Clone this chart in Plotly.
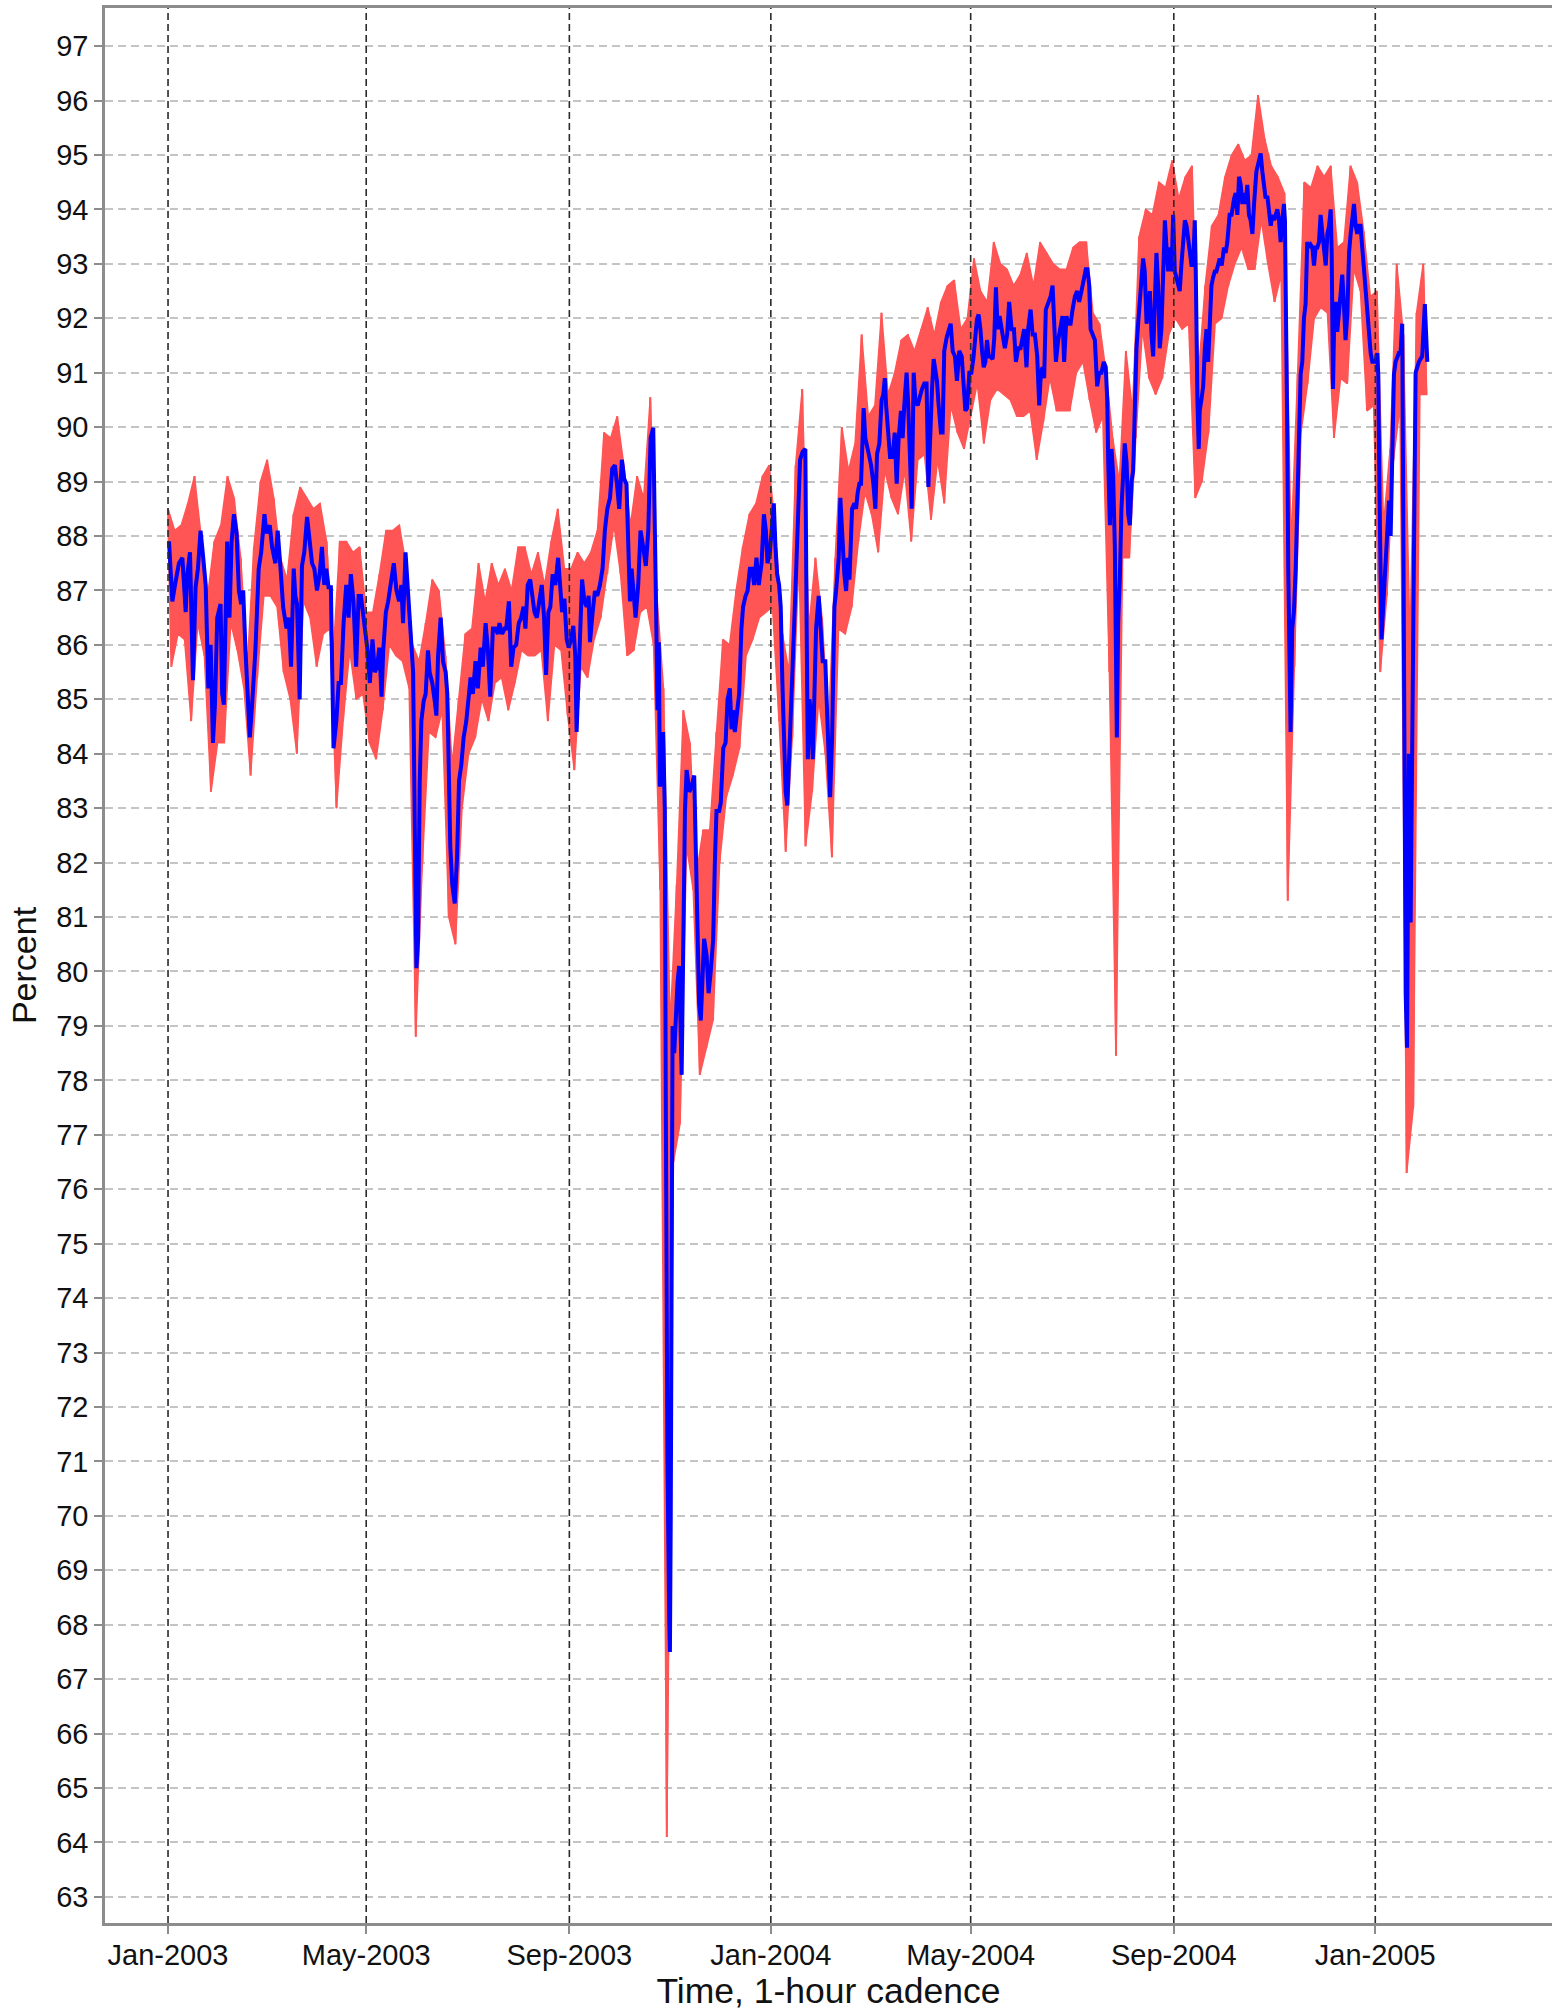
import pandas as pd
import plotly.graph_objects as go

START = pd.Timestamp("2003-01-01")

# Smoothed (blue) series: day offset from 2003-01-01 and percent value
blue_days = [0.6, 2.6, 4.0, 5.6, 6.6, 8.7, 10.7, 11.7, 13.3, 15.1, 16.7, 18.1, 19.7, 21.3, 22.8, 24.4, 25.8, 27.2, 28.4, 29.8,
             31.8, 32.8, 33.8, 35.8, 37.2, 38.5, 39.9, 41.5, 42.9, 44.3, 45.5, 46.9, 48.3, 49.5, 50.9, 52.9, 54.9, 56.4, 58.4, 59.6,
             61.6, 63.0, 65.0, 66.4, 68.0, 69.7, 71.7, 73.1, 74.5, 76.1, 77.1, 78.1, 79.7, 81.1, 82.5, 84.2, 85.8, 87.2, 88.6, 90.2,
             91.8, 93.2, 94.6, 95.8, 97.2, 98.6, 100.2, 101.9, 103.3, 104.7, 106.3, 107.9, 109.3, 110.7, 112.3, 113.9, 115.4, 116.8, 118.4, 120.8,
             122.2, 123.8, 125.2, 126.6, 127.9, 129.3, 130.3, 131.9, 133.3, 135.3, 136.7, 138.3, 139.9, 141.3, 142.3, 143.8, 145.4, 146.8, 148.4, 149.4,
             150.4, 151.4, 152.4, 153.4, 154.8, 156.0, 157.4, 158.4, 160.0, 161.5, 162.5, 163.5, 165.1, 166.5, 168.1, 169.1, 169.9, 170.9, 172.1, 173.6,
             175.0, 176.2, 177.6, 179.0, 180.6, 182.2, 183.2, 184.6, 186.2, 187.6, 189.3, 190.6, 192.3, 193.7, 195.1, 196.7, 198.3, 199.7, 200.7, 202.3,
             203.8, 204.8, 206.4, 207.8, 209.2, 210.8, 212.4, 213.8, 215.3, 216.4, 217.8, 219.3, 220.5, 221.9, 223.3, 224.9, 226.3, 227.7, 228.9, 230.3,
             231.5, 232.9, 234.5, 236.2, 237.3, 238.6, 240.0, 241.4, 242.6, 244.0, 245.4, 246.6, 247.4, 248.4, 249.5, 250.7, 252.1, 253.5, 254.7, 255.5,
             257.1, 258.5, 259.9, 261.5, 263.1, 264.5, 266.0, 267.6, 269.0, 270.6, 272.0, 273.2, 274.8, 276.2, 277.6, 278.6, 279.7, 280.7, 281.7, 283.1,
             284.7, 286.1, 287.7, 289.3, 290.8, 292.2, 293.8, 294.8, 295.4, 296.4, 297.2, 297.8, 298.8, 299.8, 300.8, 301.4, 302.4, 303.5, 303.9, 304.4,
             304.8, 305.5, 306.5, 307.5, 308.5, 309.5, 311.0, 313.0, 314.0, 315.6, 317.0, 318.6, 319.6, 320.4, 321.6, 322.6, 323.6, 324.6, 326.1, 327.3,
             328.5, 330.1, 331.1, 332.1, 333.7, 334.7, 336.2, 337.6, 338.8, 340.2, 341.2, 342.2, 343.2, 344.6, 345.8, 347.2, 348.2, 349.7, 350.9, 352.3,
             353.7, 354.9, 356.3, 357.7, 359.4, 360.8, 362.0, 363.0, 364.4, 365.8, 366.8, 367.8, 368.8, 370.0, 371.0, 372.0, 373.0, 374.0, 375.0, 376.0,
             376.9, 378.3, 379.9, 381.3, 382.7, 384.3, 385.9, 386.7, 387.4, 388.4, 389.4, 390.4, 391.4, 392.4, 394.0, 395.4, 396.4, 398.0, 399.0, 400.0,
             400.9, 402.1, 403.5, 404.5, 406.1, 407.1, 408.1, 409.5, 410.6, 411.6, 412.6, 414.2, 415.6, 416.6, 417.6, 418.6, 419.6, 420.6, 421.2, 422.2,
             423.3, 424.7, 425.7, 427.1, 428.3, 429.3, 430.7, 432.1, 433.1, 434.0, 434.8, 435.8, 437.2, 438.8, 440.0, 441.2, 442.4, 443.8, 444.8, 445.8,
             447.2, 448.2, 449.3, 450.3, 451.5, 452.5, 453.9, 455.3, 456.5, 457.9, 459.3, 460.4, 461.4, 462.6, 463.6, 464.6, 465.6, 466.6, 468.0, 469.0,
             470.0, 471.5, 472.7, 473.9, 475.1, 476.5, 477.7, 479.1, 480.6, 481.8, 482.8, 483.8, 485.2, 486.4, 487.6, 488.8, 489.8, 490.8, 491.9, 492.9,
             493.9, 494.9, 495.9, 496.9, 497.9, 499.3, 500.3, 501.3, 502.3, 503.5, 505.3, 506.7, 508.1, 509.3, 510.8, 512.2, 513.4, 514.8, 516.2, 517.4,
             518.4, 519.8, 520.8, 522.3, 523.5, 524.9, 526.3, 527.5, 528.5, 529.5, 530.5, 531.5, 532.9, 534.4, 535.6, 536.6, 537.6, 539.0, 540.4, 541.6,
             542.6, 544.0, 545.0, 546.5, 547.7, 549.1, 550.5, 551.7, 553.1, 554.5, 555.7, 556.7, 557.8, 558.6, 559.8, 561.2, 562.6, 563.8, 565.2, 566.6,
             567.8, 568.7, 569.3, 570.3, 571.3, 572.3, 573.3, 573.9, 574.5, 575.3, 576.3, 577.3, 578.3, 579.3, 580.4, 581.4, 582.4, 583.4, 584.4, 585.4,
             586.4, 587.4, 588.4, 589.4, 590.4, 591.4, 592.5, 593.5, 594.5, 595.5, 596.5, 597.5, 598.5, 599.5, 600.5, 601.5, 602.5, 603.6, 604.6, 605.6,
             606.6, 607.6, 608.6, 609.6, 610.6, 611.6, 612.6, 613.6, 614.6, 615.7, 616.7, 617.7, 618.7, 619.7, 620.7, 621.7, 622.3, 622.7, 623.3, 624.1,
             624.7, 625.7, 626.8, 627.8, 628.8, 629.8, 630.8, 631.8, 632.8, 633.8, 634.8, 635.8, 636.8, 638.0, 639.4, 640.4, 641.4, 642.8, 644.0, 645.5,
             646.5, 647.5, 648.5, 649.5, 650.5, 651.5, 652.5, 653.5, 654.5, 655.5, 656.6, 657.6, 659.0, 660.2, 661.6, 662.6, 663.6, 664.6, 665.6, 666.6,
             667.7, 668.7, 669.7, 670.7, 671.7, 672.7, 673.7, 674.7, 675.7, 676.3, 677.1, 677.7, 678.3, 679.1, 679.7, 680.7, 681.7, 682.8, 683.8, 684.8,
             685.8, 686.8, 687.8, 688.8, 689.8, 690.9, 691.9, 692.9, 693.9, 694.9, 695.9, 696.9, 697.9, 699.0, 700.0, 701.0, 702.0, 703.0, 704.0, 704.6,
             705.4, 706.0, 707.0, 708.0, 709.0, 710.0, 711.0, 712.0, 713.0, 714.1, 715.1, 716.1, 717.1, 718.1, 719.1, 720.1, 721.1, 722.1, 723.1, 724.1,
             725.2, 726.2, 727.2, 728.2, 729.2, 730.2, 731.2, 732.2, 732.8, 733.6, 734.2, 734.8, 735.6, 736.6, 737.6, 738.7, 739.3, 740.3, 741.3, 742.3,
             743.3, 744.3, 745.3, 746.3, 747.3, 747.9, 748.6, 749.4, 750.2, 751.3, 752.4, 753.5, 754.5, 755.4, 757.4, 759.4, 761.0, 762.5]
blue_vals = [87.9, 86.8, 87.06, 87.3, 87.5, 87.6, 86.6, 87.3, 87.7, 85.35, 87.06, 87.4, 88.1, 87.6, 87.1, 85.2, 86.0, 84.2, 84.9, 86.5,
             86.75, 85.1, 84.9, 87.9, 86.5, 87.9, 88.4, 88.05, 87.0, 86.75, 87.0, 85.9, 85.0, 84.3, 84.9, 85.9, 87.4, 87.7, 88.4, 88.05,
             88.2, 87.8, 87.5, 88.1, 87.45, 86.7, 86.3, 86.5, 85.6, 87.4, 86.9, 86.75, 85.0, 87.45, 87.7, 88.35, 87.9, 87.5, 87.4, 87.0,
             87.3, 87.8, 87.1, 87.4, 87.06, 87.06, 84.1, 84.6, 85.3, 85.3, 86.4, 87.1, 86.5, 87.3, 86.8, 85.6, 86.9, 86.9, 86.5, 85.9,
             85.3, 86.1, 85.5, 85.6, 85.95, 85.05, 85.9, 86.6, 86.8, 87.2, 87.5, 87.0, 86.8, 87.1, 86.4, 87.7, 86.85, 86.3, 85.5, 82.7,
             80.06, 80.6, 83.5, 84.6, 84.97, 85.1, 85.9, 85.5, 85.3, 84.97, 84.7, 85.8, 86.5, 85.7, 85.5, 85.1, 83.8, 82.3, 81.6, 81.25,
             82.1, 83.5, 83.8, 84.3, 84.6, 85.1, 85.4, 85.1, 85.7, 85.2, 85.95, 85.6, 86.4, 85.9, 85.05, 86.3, 86.3, 86.2, 86.4, 86.2,
             86.3, 86.3, 86.8, 85.6, 85.95, 86.0, 86.4, 86.5, 86.7, 86.3, 87.1, 87.2, 86.85, 86.6, 86.5, 86.9, 87.1, 86.5, 85.45, 86.6,
             86.7, 87.3, 87.1, 87.6, 87.0, 86.6, 86.85, 86.1, 85.95, 86.1, 86.35, 85.8, 84.4, 85.3, 86.3, 87.2, 86.8, 86.7, 86.9, 86.05,
             86.6, 86.99, 86.9, 87.1, 87.4, 88.1, 88.5, 88.7, 89.24, 89.3, 88.9, 88.5, 89.4, 89.05, 88.95, 87.6, 86.8, 87.4, 86.99, 86.5,
             87.1, 88.1, 87.8, 87.45, 88.1, 89.8, 89.99, 88.4, 86.9, 84.8, 86.05, 83.4, 83.5, 84.4, 82.95, 77.6, 71.0, 68.05, 67.5, 70.0,
             76.8, 79.0, 78.5, 79.2, 79.8, 80.1, 78.1, 82.95, 83.7, 83.3, 83.4, 83.6, 82.0, 81.1, 79.4, 79.1, 80.1, 80.6, 80.3, 79.6,
             79.96, 80.6, 82.0, 82.95, 82.95, 83.1, 84.1, 84.2, 85.0, 85.2, 84.45, 84.8, 84.4, 84.8, 85.1, 86.3, 86.7, 86.9, 86.99, 87.4,
             87.4, 87.1, 87.6, 87.1, 87.5, 88.4, 88.1, 87.5, 87.7, 88.2, 88.6, 87.8, 87.3, 87.1, 86.7, 85.3, 83.9, 83.3, 83.05, 83.9,
             85.0, 85.7, 87.0, 88.5, 89.4, 89.55, 89.6, 86.3, 83.9, 85.0, 84.7, 83.9, 85.5, 86.3, 86.9, 86.3, 85.7, 85.7, 84.7, 83.6,
             83.2, 84.3, 86.7, 86.99, 87.6, 88.7, 87.98, 87.3, 86.99, 87.6, 87.2, 88.5, 88.6, 88.5, 88.8, 88.96, 88.96, 89.6, 90.35, 89.8,
             89.6, 89.45, 89.3, 88.96, 88.5, 89.5, 89.7, 90.5, 90.6, 90.9, 90.4, 89.9, 89.45, 89.45, 89.9, 88.96, 89.8, 90.3, 89.8, 90.4,
             91.0, 90.4, 89.2, 88.5, 91.0, 90.5, 90.4, 90.6, 90.7, 90.8, 90.8, 88.9, 89.9, 90.7, 91.25, 91.0, 90.85, 90.4, 89.9, 89.9,
             91.4, 91.65, 91.8, 91.9, 91.4, 91.3, 90.85, 91.4, 91.3, 90.8, 90.3, 90.35, 91.0, 91.0, 91.25, 91.65, 91.98, 92.07, 91.8, 91.4,
             91.1, 91.2, 91.6, 91.3, 91.3, 91.25, 91.65, 92.57, 91.8, 92.04, 91.7, 91.45, 91.7, 92.3, 91.8, 91.8, 91.2, 91.45, 91.45, 91.6,
             91.8, 91.1, 91.8, 92.16, 91.7, 91.7, 91.3, 90.4, 90.99, 91.1, 90.9, 92.16, 92.3, 92.4, 92.6, 92.04, 91.2, 91.6, 91.8, 92.04,
             91.2, 92.04, 91.9, 91.9, 92.16, 92.4, 92.5, 92.3, 92.5, 92.75, 92.9, 92.9, 92.6, 91.8, 91.7, 91.6, 90.75, 91.0, 91.0, 91.2,
             91.1, 90.5, 89.35, 88.2, 89.6, 89.1, 87.8, 85.8, 84.3, 86.4, 87.2, 88.5, 89.35, 89.7, 89.35, 88.4, 88.2, 89.0, 89.2, 90.5,
             91.45, 91.9, 92.4, 92.75, 93.1, 92.86, 91.9, 92.16, 92.5, 91.7, 91.3, 92.3, 93.2, 92.6, 91.45, 91.8, 92.75, 93.8, 93.3, 92.86,
             93.3, 92.86, 93.9, 92.86, 92.75, 92.57, 92.5, 92.98, 93.3, 93.8, 93.7, 93.45, 93.2, 92.98, 92.98, 93.8, 92.86, 91.1, 90.5, 89.6,
             90.3, 90.5, 90.75, 91.45, 91.8, 91.2, 91.9, 92.6, 92.75, 92.86, 92.86, 92.98, 93.1, 92.97, 93.3, 93.2, 93.4, 93.9, 93.9, 94.2,
             94.3, 93.9, 94.6, 94.45, 94.1, 94.3, 94.1, 94.45, 93.9, 93.8, 93.55, 94.1, 94.7, 94.85, 95.03, 94.7, 94.45, 94.2, 94.25, 93.9,
             93.7, 93.9, 93.8, 93.9, 94.0, 93.8, 93.4, 93.8, 94.1, 93.8, 91.9, 89.9, 87.4, 85.4, 84.4, 86.3, 86.6, 87.4, 88.65, 89.9,
             90.97, 91.2, 92.0, 92.26, 93.4, 93.3, 93.35, 93.3, 92.97, 93.3, 93.3, 93.4, 93.9, 93.55, 93.3, 92.97, 93.55, 93.7, 94.0, 93.2,
             90.7, 91.75, 92.3, 91.75, 92.1, 92.5, 92.8, 92.26, 91.6, 92.1, 93.2, 93.55, 93.9, 94.1, 93.7, 93.55, 93.7, 93.7, 93.3, 92.9,
             92.65, 92.26, 91.75, 91.36, 91.2, 91.2, 91.2, 91.36, 90.97, 88.65, 87.4, 86.1, 86.6, 87.1, 87.6, 88.3, 88.65, 88.0, 89.9, 90.97,
             91.2, 91.3, 91.36, 91.36, 91.9, 88.65, 83.5, 79.6, 78.6, 84.0, 80.9, 84.5, 89.0, 91.0, 91.2, 91.3, 92.26, 91.2]

# Hourly (red) series, summarised as the upper and lower excursion in each 4-day block
RED_BLOCK_DAYS = 4
red_hi = [88.5, 88.1, 88.2, 88.6, 89.1, 88.0, 86.9, 87.9, 88.2, 89.1, 88.7, 87.6, 85.6, 87.8, 89.0, 89.4, 88.7, 87.6, 87.2, 88.4,
          88.9, 88.7, 88.5, 88.6, 87.9, 85.8, 87.9, 87.9, 87.7, 87.8, 86.6, 86.6, 87.3, 88.1, 88.1, 88.2, 87.5, 86.0, 85.7, 86.4,
          87.2, 87.0, 85.8, 83.8, 85.0, 86.2, 86.3, 87.5, 86.8, 87.5, 87.1, 87.4, 87.0, 87.8, 87.8, 87.3, 87.7, 87.1, 87.9, 88.5,
          87.4, 87.4, 87.7, 87.5, 87.7, 88.1, 89.9, 89.8, 90.2, 89.3, 88.2, 89.1, 88.7, 90.55, 86.9, 85.2, 79.0, 81.6, 84.8, 84.2,
          81.8, 82.6, 82.6, 84.4, 86.1, 86.0, 87.0, 87.8, 88.4, 88.6, 89.1, 89.3, 88.0, 86.2, 85.5, 89.3, 90.7, 86.3, 87.6, 86.5,
          84.5, 87.6, 90.0, 89.2, 89.7, 91.7, 90.2, 90.4, 92.1, 90.6, 91.0, 91.6, 91.7, 91.4, 91.8, 92.2, 91.7, 92.3, 92.6, 92.7,
          91.8, 92.0, 93.1, 92.5, 92.3, 93.4, 93.0, 92.9, 92.6, 92.8, 93.2, 92.6, 93.4, 93.2, 93.0, 92.9, 92.9, 93.3, 93.4, 93.4,
          92.1, 91.9, 91.0, 89.8, 89.0, 91.4, 90.3, 93.5, 94.0, 93.9, 94.5, 94.4, 94.9, 94.2, 94.6, 94.8, 91.0, 92.6, 93.7, 93.9,
          94.6, 95.0, 95.2, 94.9, 95.0, 96.1, 95.3, 94.8, 94.6, 94.3, 87.8, 91.0, 94.5, 94.4, 94.8, 94.6, 94.8, 93.3, 93.4, 94.8,
          94.5, 93.6, 92.4, 92.5, 88.2, 89.6, 93.0, 91.7, 86.0, 92.1, 93.0]
red_lo = [85.6, 86.2, 86.1, 84.6, 86.4, 85.8, 83.3, 84.2, 84.2, 86.4, 85.9, 85.2, 83.6, 85.4, 86.9, 86.9, 86.7, 85.5, 85.0, 84.0,
          86.8, 86.5, 85.6, 86.2, 86.3, 83.0, 84.6, 85.9, 85.0, 85.1, 84.2, 83.9, 84.8, 86.0, 85.8, 85.7, 85.2, 78.8, 82.0, 84.4,
          84.3, 84.8, 81.0, 80.5, 83.0, 84.0, 84.3, 85.0, 84.6, 85.3, 85.4, 84.8, 85.3, 85.9, 85.8, 85.8, 85.9, 84.6, 86.0, 85.9,
          84.7, 83.7, 85.6, 85.4, 86.1, 86.5, 87.3, 88.2, 87.3, 85.8, 85.9, 86.6, 86.7, 86.0, 81.5, 64.1, 76.5, 77.2, 82.3, 81.5,
          78.1, 78.6, 79.1, 82.0, 83.2, 83.6, 84.1, 85.8, 86.1, 86.5, 86.6, 86.7, 84.6, 82.2, 84.3, 87.6, 82.3, 83.3, 85.0, 84.0,
          82.1, 86.3, 86.2, 86.7, 87.9, 88.8, 88.4, 87.7, 89.2, 88.7, 88.4, 89.2, 87.9, 89.4, 89.5, 88.3, 89.4, 88.6, 90.4, 89.9,
          89.6, 90.2, 90.8, 89.7, 90.5, 90.7, 90.6, 90.5, 90.2, 90.2, 90.3, 89.4, 90.1, 90.9, 90.3, 90.3, 90.3, 91.0, 91.2, 90.5,
          89.9, 90.2, 85.5, 78.45, 87.6, 87.6, 89.8, 91.8, 90.9, 90.6, 90.9, 91.7, 92.0, 91.8, 91.9, 88.7, 89.0, 89.9, 91.9, 92.0,
          92.6, 93.0, 93.3, 92.9, 92.9, 93.8, 93.0, 92.3, 92.8, 81.3, 85.6, 89.9, 90.8, 92.0, 92.2, 92.1, 89.8, 90.9, 90.8, 92.9,
          92.5, 90.3, 90.4, 85.5, 86.9, 89.4, 90.4, 76.3, 77.5, 90.6, 90.6]

x_tick_dates = ["2003-01-01", "2003-05-01", "2003-09-01", "2004-01-01", "2004-05-01", "2004-09-01", "2005-01-01"]
x_tick_labels = ["Jan-2003", "May-2003", "Sep-2003", "Jan-2004", "May-2004", "Sep-2004", "Jan-2005"]
y_ticks = list(range(63, 98))

# ---- build traces ----
blue_x = [START + pd.Timedelta(days=d) for d in blue_days]

hi_x = [START + pd.Timedelta(days=RED_BLOCK_DAYS * k) for k in range(len(red_hi))]
lo_x = [START + pd.Timedelta(days=RED_BLOCK_DAYS * k + RED_BLOCK_DAYS / 2) for k in range(len(red_lo))]

# red band: upper excursions forward, lower excursions backward -> closed polygon
band_x = hi_x + lo_x[::-1]
band_y = red_hi + red_lo[::-1]

# zig-zag through the alternating excursions (hourly variability)
zz_x, zz_y = [], []
for hx, hy, lx, ly in zip(hi_x, red_hi, lo_x, red_lo):
    zz_x += [hx, lx]
    zz_y += [hy, ly]

FONT = "Liberation Sans, Arial, sans-serif"
AXIS_COL = "#8c8c8c"
RED = "#ff5555"

fig = go.Figure()
fig.add_trace(go.Scatter(x=band_x, y=band_y, mode="lines", fill="toself", fillcolor=RED,
                         line=dict(color=RED, width=1.5), hoverinfo="skip"))
fig.add_trace(go.Scatter(x=zz_x, y=zz_y, mode="lines",
                         line=dict(color=RED, width=2), hoverinfo="skip"))
fig.add_trace(go.Scatter(x=blue_x, y=blue_vals, mode="lines",
                         line=dict(color="#0000ff", width=4), hoverinfo="skip"))

shapes = []
for d in x_tick_dates:
    shapes.append(dict(type="line", xref="x", yref="paper", x0=d, x1=d, y0=0, y1=1,
                       line=dict(color="#2a2a2a", width=1.6, dash="7px,4px"), layer="above"))

fig.update_layout(
    width=1552, height=2011,
    margin=dict(l=105, r=0, t=8, b=88),
    plot_bgcolor="white", paper_bgcolor="white",
    showlegend=False,
    shapes=shapes,
    font=dict(family=FONT, color="#111"),
)
fig.update_xaxes(
    type="date",
    range=["2002-11-23 20:00", "2005-04-18 00:00"],
    tickvals=x_tick_dates, ticktext=x_tick_labels,
    ticks="outside", ticklen=8, tickwidth=2, tickcolor=AXIS_COL,
    ticklabelstandoff=-4,
    showline=True, linecolor=AXIS_COL, linewidth=2.5, mirror=True,
    showgrid=False, zeroline=False,
    tickfont=dict(family=FONT, size=29, color="#111"),
    title=dict(text="Time, 1-hour cadence", font=dict(family=FONT, size=35.5, color="#111"), standoff=5),
)
fig.update_yaxes(
    range=[62.52, 97.70],
    tickvals=y_ticks,
    ticks="outside", ticklen=8, tickwidth=2, tickcolor=AXIS_COL,
    showline=True, linecolor=AXIS_COL, linewidth=2.5,
    showgrid=True, gridcolor="#c4c4c4", gridwidth=1.5, griddash="8px,5px",
    zeroline=False,
    tickfont=dict(family=FONT, size=29, color="#111"),
    title=dict(text="Percent", font=dict(family=FONT, size=34, color="#111"), standoff=10),
)

# the page's default 8px body margin would shift the figure; remove it
fig.write_html("out.html", config={"displayModeBar": False},
               post_script="document.body.style.margin='0';document.body.style.overflow='hidden';")
